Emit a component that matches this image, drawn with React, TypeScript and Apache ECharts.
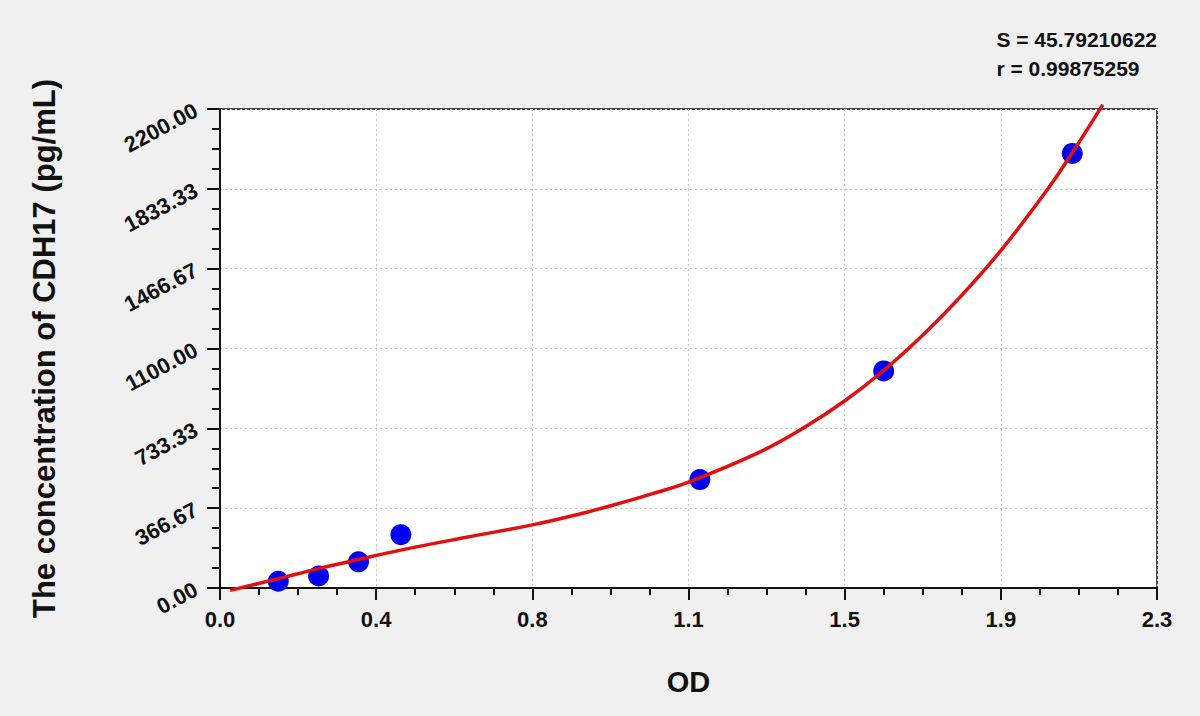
import React, { useEffect, useRef } from "react";
import * as echarts from "echarts";

const xTickLabels = ["0.0", "0.4", "0.8", "1.1", "1.5", "1.9", "2.3"];
const yTickLabels = ["0.00", "366.67", "733.33", "1100.00", "1466.67", "1833.33", "2200.00"];

const standardOD = [0.143, 0.242, 0.34, 0.444, 1.178, 1.629, 2.092];
const standardConc = [31, 55, 120, 245, 498, 997, 1996];

const curveOD = [0.025, 0.143, 0.242, 0.34, 0.446, 0.602, 0.767, 0.885, 0.966, 1.06, 1.15, 1.318, 1.433, 1.533, 1.629, 1.728, 1.81, 1.915, 2.031, 2.093, 2.167];
const curveConc = [-11, 43, 89, 131, 175, 232, 290, 341, 381, 432, 486, 618, 736, 859, 999, 1167, 1323, 1546, 1830, 2002, 2220];

const statLines = ["S = 45.79210622", "r = 0.99875259"];

const xTitle = "OD";
const yTitle = "The concentration of CDH17 (pg/mL)";

const FONT = "'Liberation Sans', Arial, sans-serif";

export default function App() {
  const ref = useRef<HTMLDivElement>(null);
  useEffect(() => {
    if (!ref.current) return;
    const chart = echarts.init(ref.current, undefined, { renderer: "svg" });
    const xInt = 2.3 / 6;
    const yInt = 2200 / 6;
    chart.setOption({
      animation: false,
      backgroundColor: "#f0f0f0",
      textStyle: { fontFamily: FONT },
      grid: {
        left: 220,
        right: 43,
        top: 109,
        bottom: 128,
        show: true,
        backgroundColor: "#ffffff",
        borderColor: "#111",
        borderWidth: 1.5,
      },
      graphic: [
        {
          type: "text",
          right: 43,
          top: 25,
          style: {
            text: statLines.join("\n"),
            align: "right",
            fill: "#111",
            font: `bold 21px ${FONT}`,
            lineHeight: 29,
          },
        },
      ],
      xAxis: {
        type: "value",
        min: 0,
        max: 2.3,
        interval: xInt,
        name: xTitle,
        nameLocation: "middle",
        nameGap: 79,
        nameTextStyle: { fontSize: 29, fontWeight: "bold", color: "#111", fontFamily: FONT },
        axisLine: { show: true, onZero: false, lineStyle: { color: "#111", width: 2 } },
        axisTick: { show: true, length: 12, lineStyle: { color: "#111", width: 2 } },
        minorTick: { show: true, splitNumber: 4, length: 7, lineStyle: { color: "#111", width: 2 } },
        axisLabel: {
          margin: 20,
          fontSize: 22,
          fontWeight: "bold",
          color: "#111",
          fontFamily: FONT,
          formatter: (v: number) => xTickLabels[Math.round(v / xInt)] ?? "",
        },
        splitLine: { show: true, lineStyle: { color: "#c4c4c4", width: 1, type: [2, 3] } },
      },
      yAxis: {
        type: "value",
        min: 0,
        max: 2200,
        interval: yInt,
        name: yTitle,
        nameLocation: "middle",
        nameGap: 160,
        nameRotate: 90,
        nameTextStyle: { fontSize: 31, fontWeight: "bold", color: "#111", fontFamily: FONT },
        axisLine: { show: true, onZero: false, lineStyle: { color: "#111", width: 2 } },
        axisTick: { show: true, length: 13, lineStyle: { color: "#111", width: 2 } },
        minorTick: { show: true, splitNumber: 4, length: 8, lineStyle: { color: "#111", width: 2 } },
        axisLabel: {
          margin: 24,
          rotate: 28,
          fontSize: 22,
          fontWeight: "bold",
          color: "#111",
          fontFamily: FONT,
          formatter: (v: number) => yTickLabels[Math.round(v / yInt)] ?? "",
        },
        splitLine: { show: true, lineStyle: { color: "#c4c4c4", width: 1, type: [2, 3] } },
      },
      series: [
        {
          type: "line",
          data: curveOD.map((x, i) => [x, curveConc[i]]),
          smooth: 0.4,
          showSymbol: false,
          clip: false,
          lineStyle: { color: "#e01010", width: 3.5 },
          z: 3,
        },
        {
          type: "scatter",
          data: standardOD.map((x, i) => [x, standardConc[i]]),
          symbol: "circle",
          symbolSize: 21,
          itemStyle: { color: "#0000ee", opacity: 1 },
          z: 2,
        },
      ],
    });
    return () => chart.dispose();
  }, []);
  return (
    <div
      ref={ref}
      style={{ position: "fixed", left: 0, top: 0, width: 1200, height: 716 }}
    />
  );
}
